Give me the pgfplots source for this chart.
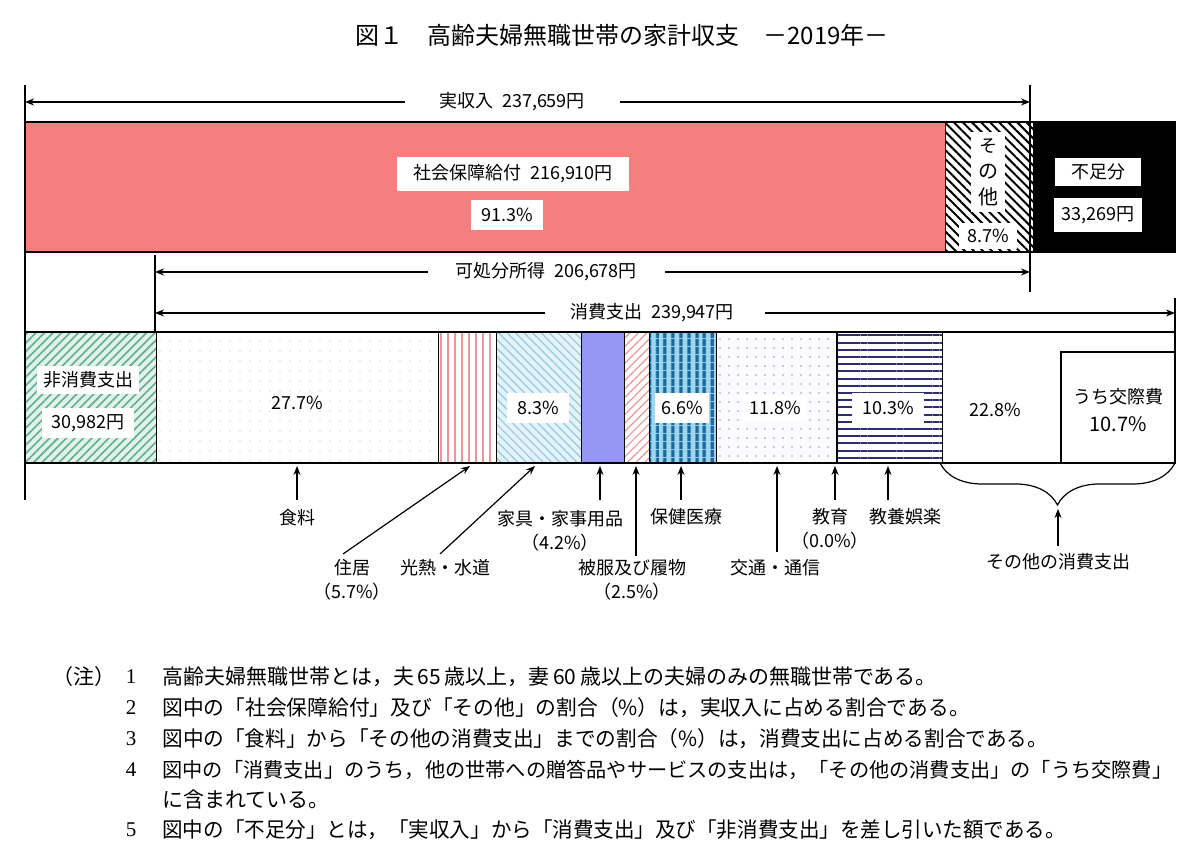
\documentclass[border=0pt]{standalone}
\usepackage{fontspec}
\setmainfont{Noto Sans CJK JP}
\newfontfamily\serifnum{Liberation Serif}
\usepackage{pgfplots}
\pgfplotsset{compat=1.18}
\usetikzlibrary{patterns,patterns.meta,arrows.meta,decorations.pathreplacing}
\definecolor{salmon}{RGB}{245,126,126}
\definecolor{grnline}{RGB}{95,175,140}
\definecolor{grnfill}{RGB}{225,242,234}
\definecolor{dotcol}{RGB}{175,185,200}
\definecolor{pinkline}{RGB}{235,150,150}
\definecolor{ltblue}{RGB}{228,242,250}
\definecolor{ltblueline}{RGB}{150,200,230}
\definecolor{violet}{RGB}{150,150,245}
\definecolor{medblue}{RGB}{25,105,160}
\definecolor{medbluefill}{RGB}{160,215,240}
\definecolor{lav}{RGB}{185,185,230}
\definecolor{lavfill}{RGB}{250,250,255}
\definecolor{navy}{RGB}{45,45,115}
\newcommand\lf{\fontsize{9}{11}\selectfont}
\newcommand\nf{\fontsize{10.5}{12}\selectfont}
\begin{document}
\begin{tikzpicture}
\pgfplotsset{barframe/.style={scale only axis, width=600pt, height=430.5pt,
  at={(0,0)}, anchor=south west, xmin=-5889.7, xmax=276817.7,
  ymin=0, ymax=861, y dir=reverse, hide axis, xbar stacked, clip=false}}
% ---- top bar: income
\begin{axis}[barframe, bar width=130]
\addplot[fill=salmon, draw=black, line width=0.6pt] coordinates {(216910,187)};
\addplot[fill=white, draw=black, line width=0.6pt,
  postaction={pattern={Lines[angle=-45,distance=3.2pt,line width=1pt]}, pattern color=black}]
  coordinates {(20749,187)};
\addplot[fill=black, draw=black, line width=0.6pt] coordinates {(33269,187)};
\end{axis}
% ---- bottom bar: expenditure
\begin{axis}[barframe, bar width=131]
\addplot[fill=grnfill, draw=black, line width=0.6pt,
  postaction={pattern={Lines[angle=45,distance=3pt,line width=0.8pt]}, pattern color=grnline}]
  coordinates {(30982,397.5)};
\addplot[fill=white, draw=black, line width=0.6pt,
  postaction={pattern={Dots[distance=5pt,radius=0.35pt]}, pattern color=dotcol}]
  coordinates {(66458,397.5)};
\addplot[fill=white, draw=black, line width=0.6pt,
  postaction={pattern={Lines[angle=90,distance=3.5pt,line width=0.8pt]}, pattern color=pinkline}]
  coordinates {(13625,397.5)};
\addplot[fill=ltblue, draw=black, line width=0.6pt,
  postaction={pattern={Lines[angle=-45,distance=3pt,line width=0.6pt]}, pattern color=ltblueline}]
  coordinates {(19983,397.5)};
\addplot[fill=violet, draw=black, line width=0.6pt] coordinates {(10100,397.5)};
\addplot[fill=white, draw=black, line width=0.6pt,
  postaction={pattern={Lines[angle=45,distance=3pt,line width=0.6pt]}, pattern color=pinkline}]
  coordinates {(6065,397.5)};
\addplot[fill=medbluefill, draw=black, line width=0.6pt,
  postaction={pattern={Lines[angle=90,distance=4pt,line width=2pt]}, pattern color=medblue}]
  coordinates {(15759,397.5)};
\addplot[fill=lavfill, draw=black, line width=0.6pt,
  postaction={pattern={Dots[distance=4.5pt,radius=0.55pt]}, pattern color=lav}]
  coordinates {(28328,397.5)};
\addplot[fill=white, draw=black, line width=0.6pt] coordinates {(15,397.5)};
\addplot[fill=white, draw=black, line width=0.6pt,
  postaction={pattern={Lines[angle=0,distance=3.6pt,line width=1pt]}, pattern color=navy}]
  coordinates {(24804,397.5)};
\addplot[fill=white, draw=black, line width=0.6pt] coordinates {(54810,397.5)};
\end{axis}
% ---- annotations in pixel coordinates
\begin{scope}[x=0.5pt, y=-0.5pt, yshift=430.5pt, >={Stealth[length=4.5pt,width=3.5pt]}]
\path[use as bounding box] (0,0) rectangle (1200,861);
% うち交際費 sub-box
\draw[line width=0.6pt] (1061,463) |- (1175,352);
% title
\node[anchor=west, inner sep=0pt] at (355,35) {\fontsize{12}{14}\selectfont 図１　高齢夫婦無職世帯の家計収支　－2019年－};
% guide lines
\draw[line width=0.6pt] (25,85) -- (25,500);
\draw[line width=0.6pt] (1030,85) -- (1030,292);
\draw[line width=0.6pt] (155,255) -- (155,332);
\draw[line width=0.6pt] (1175,298) -- (1175,332);
% 実収入
\draw[->, line width=0.6pt] (405,102) -- (25,102);
\draw[->, line width=0.6pt] (620,102) -- (1030,102);
\node[inner sep=0pt] at (512,102) {\lf 実収入\enspace 237,659円};
% 可処分所得
\draw[->, line width=0.6pt] (428,272) -- (155,272);
\draw[->, line width=0.6pt] (665,272) -- (1030,272);
\node[inner sep=0pt] at (546,272) {\lf 可処分所得\enspace 206,678円};
% 消費支出
\draw[->, line width=0.6pt] (545,313) -- (155,313);
\draw[->, line width=0.6pt] (765,313) -- (1175,313);
\node[inner sep=0pt] at (652,313) {\lf 消費支出\enspace 239,947円};
% top bar labels
\node[fill=white, inner xsep=8pt, inner ysep=4pt] at (513,174) {\lf 社会保障給付\enspace 216,910円};
\node[fill=white, inner xsep=5pt, inner ysep=4pt] at (507,215) {\lf 91.3\%};
\node[fill=white, inner xsep=3.5pt, inner ysep=3pt, align=center] at (988,172) {\lf そ\\[1pt]の\\[1pt]他};
\node[fill=white, inner xsep=4pt, inner ysep=3pt] at (988,236) {\lf 8.7\%};
\node[fill=white, inner xsep=8pt, inner ysep=3pt] at (1098,172) {\lf 不足分};
\node[fill=white, inner xsep=4pt, inner ysep=4pt] at (1098,215) {\lf 33,269円};
% bottom bar labels
\node[fill=white, inner xsep=3pt, inner ysep=3pt] at (88,380) {\lf 非消費支出};
\node[fill=white, inner xsep=5pt, inner ysep=3pt] at (88,423) {\lf 30,982円};
\node[inner sep=1pt] at (297,403) {\lf 27.7\%};
\node[fill=white, inner xsep=5pt, inner ysep=4pt] at (538,408) {\lf 8.3\%};
\node[fill=white, inner xsep=3pt, inner ysep=4pt] at (682,408) {\lf 6.6\%};
\node[fill=white, inner xsep=3pt, inner ysep=3pt] at (775,408) {\lf 11.8\%};
\node[fill=white, inner xsep=5pt, inner ysep=4pt] at (888,408) {\lf 10.3\%};
\node[inner sep=1pt] at (995,410) {\lf 22.8\%};
\node[inner sep=1pt, align=center] at (1118,410) {\lf うち交際費\\[2pt]10.7\%};
% arrows below
\draw[->, line width=0.6pt] (297,500) -- (297,466);
\draw[->, line width=0.6pt] (343,554) -- (470,466);
\draw[->, line width=0.6pt] (440,554) -- (535,466);
\draw[->, line width=0.6pt] (600,500) -- (600,466);
\draw[->, line width=0.6pt] (636,556) -- (636,466);
\draw[->, line width=0.6pt] (681,500) -- (681,466);
\draw[->, line width=0.6pt] (777,552) -- (777,466);
\draw[->, line width=0.6pt] (835,500) -- (835,466);
\draw[->, line width=0.6pt] (888,500) -- (888,466);
\draw[line width=0.6pt, decorate, decoration={brace, mirror, amplitude=21pt}] (940,463) -- (1175,463);
\draw[->, line width=0.6pt] (1058,546) -- (1058,509);
% bottom labels
\node at (297,518) {\lf 食料};
\node at (352,568) {\lf 住居};
\node at (352,592) {\lf （5.7\%）};
\node at (445,568) {\lf 光熱・水道};
\node at (560,519) {\lf 家具・家事用品};
\node at (560,543) {\lf （4.2\%）};
\node at (632,568) {\lf 被服及び履物};
\node at (632,592) {\lf （2.5\%）};
\node at (686,517) {\lf 保健医療};
\node at (775,568) {\lf 交通・通信};
\node at (830,517) {\lf 教育};
\node at (830,541) {\lf （0.0\%）};
\node at (905,517) {\lf 教養娯楽};
\node at (1058,562) {\lf その他の消費支出};
% notes
\node[anchor=west, inner sep=0pt] at (52,677) {\nf （注）};
\foreach \n/\yy in {1/677,2/708,3/739,4/770,5/830}{\node[inner sep=0pt] at (131,\yy) {\nf\serifnum \n};}
\node[anchor=west, inner sep=0pt] at (162,677) {\nf 高齢夫婦無職世帯とは，夫\,65\,歳以上，妻\,60\,歳以上の夫婦のみの無職世帯である。};
\node[anchor=west, inner sep=0pt] at (162,708) {\nf\scalebox{0.988}[1]{図中の「社会保障給付」及び「その他」の割合（\%）は，実収入に占める割合である。}};
\node[anchor=west, inner sep=0pt] at (162,739) {\nf\scalebox{0.983}[1]{図中の「食料」から「その他の消費支出」までの割合（\%）は，消費支出に占める割合である。}};
\node[anchor=west, inner sep=0pt] at (162,770) {\nf\resizebox{505pt}{!}{図中の「消費支出」のうち，他の世帯への贈答品やサービスの支出は，「その他の消費支出」の「うち交際費」}};
\node[anchor=west, inner sep=0pt] at (162,800) {\nf に含まれている。};
\node[anchor=west, inner sep=0pt] at (162,830) {\nf\scalebox{0.978}[1]{図中の「不足分」とは，「実収入」から「消費支出」及び「非消費支出」を差し引いた額である。}};
\end{scope}
\end{tikzpicture}
\end{document}
